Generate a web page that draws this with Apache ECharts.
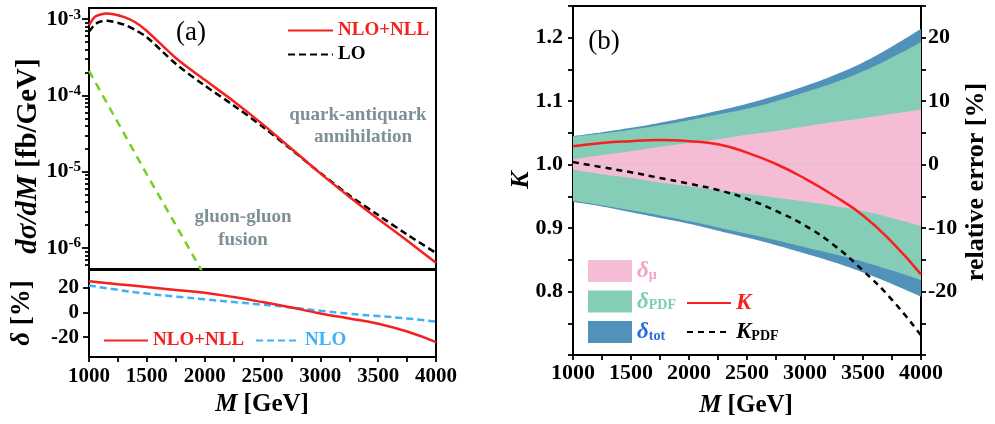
<!DOCTYPE html>
<html>
<head>
<meta charset="utf-8">
<script src="https://cdn.jsdelivr.net/npm/echarts@6/dist/echarts.min.js"></script>
<style>
  html, body { margin: 0; padding: 0; background: #fff; }
  #chart { width: 995px; height: 424px; }
</style>
</head>
<body>
<div id="chart"></div>
<script>
  // 数据 (a) 上图: 微分截面
  var massA = [1000, 1050, 1100, 1150, 1200, 1300, 1400, 1500, 1750, 2000, 2250, 2500, 2750, 3000, 3250, 3500, 3750, 4000];
  var nlonllA = [8.3e-4, 1.07e-3, 1.15e-3, 1.19e-3, 1.17e-3, 1.07e-3, 9.1e-4, 7.0e-4, 3.1e-4, 1.6e-4, 8.4e-5, 4.2e-5, 2.0e-5, 9.5e-6, 4.7e-6, 2.4e-6, 1.25e-6, 6.4e-7];
  var loA = [6.8e-4, 8.5e-4, 9.3e-4, 9.5e-4, 9.3e-4, 8.5e-4, 7.2e-4, 5.8e-4, 2.6e-4, 1.35e-4, 7.4e-5, 3.9e-5, 1.95e-5, 9.6e-6, 4.9e-6, 2.7e-6, 1.5e-6, 8.6e-7];
  var massG = [1000, 1250, 1500, 1750, 2000];
  var ggA = [2.1e-4, 4.4e-5, 9.2e-6, 2.0e-6, 4.3e-7];

  // (a) 下图 和 (b)
  var massB = [1000, 1250, 1500, 1750, 2000, 2250, 2500, 2750, 3000, 3250, 3500, 3750, 4000];
  var deltaNLL = [25, 22.6, 20.3, 18.0, 15.7, 12.2, 8.2, 3.8, -1.0, -5.0, -9.3, -15.5, -24.0];
  var deltaNLO = [21.6, 18.0, 15.0, 12.6, 10.4, 8.2, 6.1, 3.8, 1.2, -1.2, -3.1, -5.0, -7.6];

  var totUp = [4.5, 5.1, 5.8, 6.6, 7.5, 8.5, 9.6, 10.9, 12.4, 14.1, 16.1, 18.6, 21.4];
  var pdfUp = [4.4, 4.9, 5.5, 6.2, 7.0, 7.9, 8.8, 10.0, 11.4, 12.9, 14.7, 16.9, 19.3];
  var muUp = [0.8, 1.5, 2.1, 2.8, 3.4, 4.0, 4.7, 5.3, 6.0, 6.7, 7.3, 8.0, 8.7];
  var muLow = [-0.8, -1.5, -2.1, -2.8, -3.4, -4.0, -4.6, -5.2, -5.8, -6.5, -7.3, -8.4, -9.7];
  var pdfLow = [-5.7, -6.4, -7.2, -8.0, -8.9, -9.9, -10.9, -11.9, -13.0, -14.1, -15.3, -16.7, -18.2];
  var totLow = [-5.9, -6.6, -7.5, -8.4, -9.3, -10.4, -11.5, -12.7, -14.0, -15.4, -17.0, -18.8, -20.8];
  var kVal = [1.029, 1.034, 1.037, 1.039, 1.037, 1.032, 1.019, 1.001, 0.978, 0.951, 0.920, 0.878, 0.827];
  var kPdf = [1.004, 0.996, 0.988, 0.979, 0.970, 0.960, 0.946, 0.927, 0.904, 0.873, 0.833, 0.787, 0.731];

  // 刻度
  var logMajor = [1e-6, 1e-5, 1e-4, 1e-3];
  var logMantissa = [2, 3, 4, 5, 6, 7, 8, 9];
  var logDecades = [1e-7, 1e-6, 1e-5, 1e-4];
  var deltaTicks = [-20, 0, 20];

  var yMinA = 5.3e-7, yMaxA = 1.4e-3;
  var logMinor = [];
  logDecades.forEach(function (d) {
    logMantissa.forEach(function (m) {
      var v = m * d;
      if (v > yMinA && v < yMaxA) logMinor.push(v);
    });
  });

  function zip(xs, ys) {
    return xs.map(function (x, i) { return [x, ys[i]]; });
  }

  var FONT = "'Liberation Serif', 'Times New Roman', serif";
  var RED = '#f5211f';
  var C_TOT = '#5192bb', C_PDF = '#86cdb8', C_MU = '#f4bdd5';
  var GRAYTXT = '#7e9097';

  var labelStyle = { fontFamily: FONT, fontWeight: 'bold', fontSize: 21, color: '#000' };
  var lineAxis = { show: true, onZero: false, lineStyle: { color: '#000', width: 2 } };
  function ticks(len, extra) {
    return Object.assign({ show: true, length: len, lineStyle: { color: '#000', width: 1.8 } }, extra || {});
  }

  var chart = echarts.init(document.getElementById('chart'));

  var option = {
    animation: false,
    grid: [
      { left: 89, top: 8, width: 347, height: 261, show: true, borderColor: '#000', borderWidth: 2 },
      { left: 89, top: 270, width: 347, height: 87, show: true, borderColor: '#000', borderWidth: 2 },
      { left: 573, top: 6, width: 348, height: 349, show: true, borderColor: '#000', borderWidth: 2 },
      { left: 89, top: 8, width: 347, height: 261 }
    ],
    xAxis: [
      { gridIndex: 0, type: 'value', min: 1000, max: 4000, axisLine: lineAxis, axisTick: { show: false }, axisLabel: { show: false }, splitLine: { show: false } },
      {
        gridIndex: 1, type: 'value', min: 1000, max: 4000, interval: 250, axisLine: lineAxis,
        axisTick: ticks(5),
        axisLabel: Object.assign({ margin: 9, formatter: function (v) { return v % 500 === 0 ? v : ''; } }, labelStyle),
        splitLine: { show: false }
      },
      {
        gridIndex: 2, type: 'value', min: 1000, max: 4000, interval: 250, axisLine: lineAxis,
        axisTick: ticks(5),
        axisLabel: Object.assign({ margin: 7, formatter: function (v) { return v % 500 === 0 ? v : ''; } }, labelStyle, { fontSize: 22 }),
        splitLine: { show: false }
      },
      { gridIndex: 3, type: 'value', min: 1000, max: 4000, show: false }
    ],
    yAxis: [
      {
        gridIndex: 0, type: 'log', logBase: 10, min: yMinA, max: yMaxA, axisLine: lineAxis,
        axisTick: ticks(7, { customValues: logMajor }),
        axisLabel: {
          customValues: logMajor, margin: 8,
          formatter: function (v) { return '{b|10}{s|' + Math.round(Math.log10(v)) + '}'; },
          rich: {
            b: { fontFamily: FONT, fontWeight: 'bold', fontSize: 22, lineHeight: 24, color: '#000' },
            s: { fontFamily: FONT, fontWeight: 'bold', fontSize: 15, verticalAlign: 'top', color: '#000' }
          }
        },
        splitLine: { show: false }
      },
      {
        gridIndex: 1, type: 'value', min: -36, max: 34, axisLine: lineAxis,
        axisTick: ticks(6, { customValues: deltaTicks }),
        axisLabel: Object.assign({ customValues: deltaTicks, margin: 10 }, labelStyle),
        splitLine: { show: false }
      },
      {
        gridIndex: 2, type: 'value', min: 0.7, max: 1.25, interval: 0.05, axisLine: lineAxis,
        axisTick: ticks(5),
        axisLabel: Object.assign({
          margin: 10,
          formatter: function (v) {
            var n = Math.round(v * 100);
            return (n % 10 === 0 && n >= 80 && n <= 120) ? (n / 100).toFixed(1) : '';
          }
        }, labelStyle, { fontSize: 22 }),
        splitLine: { show: false }
      },
      {
        gridIndex: 2, type: 'value', position: 'right', min: -30, max: 25, interval: 5, axisLine: lineAxis,
        axisTick: ticks(5),
        axisLabel: Object.assign({
          margin: 7,
          formatter: function (v) { return (v % 10 === 0 && v > -30) ? v : ''; }
        }, labelStyle, { fontSize: 22 }),
        splitLine: { show: false }
      },
      {
        gridIndex: 3, type: 'log', logBase: 10, min: yMinA, max: yMaxA,
        axisLine: { show: false },
        axisTick: ticks(4, { customValues: logMinor }),
        axisLabel: { show: false },
        splitLine: { show: false }
      }
    ],
    legend: [
      {
        orient: 'vertical', left: 287, top: 21, padding: 0, itemWidth: 45, itemHeight: 14, itemGap: 5, selectedMode: false,
        itemStyle: { opacity: 0 },
        textStyle: { fontFamily: FONT, fontWeight: 'bold', fontSize: 19, lineHeight: 18 },
        data: [
          { name: 'NLO+NLL', textStyle: { color: RED } },
          { name: 'LO', textStyle: { color: '#000' } }
        ]
      },
      {
        orient: 'horizontal', left: 103, top: 331, padding: 0, itemWidth: 44, itemHeight: 14, itemGap: 11, selectedMode: false,
        itemStyle: { opacity: 0 },
        textStyle: { fontFamily: FONT, fontWeight: 'bold', fontSize: 19, lineHeight: 19 },
        data: [
          { name: 'NLO+NLL', textStyle: { color: RED } },
          { name: 'NLO', textStyle: { color: '#3fb2f6' } }
        ]
      },
      {
        orient: 'vertical', left: 588, top: 260, padding: 0, itemWidth: 44, itemHeight: 22, itemGap: 7.5, selectedMode: false,
        formatter: function (name) {
          var sub = { mu: 'μ', pdf: 'PDF', tot: 'tot' }[name];
          return '{d|δ}{sub|' + sub + '}';
        },
        textStyle: {
          fontFamily: FONT, fontWeight: 'bold', fontSize: 22,
          rich: {
            d: { fontFamily: FONT, fontStyle: 'italic', fontSize: 23, verticalAlign: 'top', lineHeight: 22 },
            sub: { fontFamily: FONT, fontWeight: 'bold', fontSize: 14, verticalAlign: 'bottom', lineHeight: 22 }
          }
        },
        data: [
          { name: 'mu', icon: 'rect', itemStyle: { color: C_MU }, textStyle: { color: '#f2a3c8' } },
          { name: 'pdf', icon: 'rect', itemStyle: { color: C_PDF }, textStyle: { color: '#79cfae' } },
          { name: 'tot', icon: 'rect', itemStyle: { color: C_TOT }, textStyle: { color: '#2a6ce0' } }
        ]
      },
      {
        orient: 'vertical', left: 686, top: 292, padding: 0, itemWidth: 44, itemHeight: 14, itemGap: 6, selectedMode: false,
        itemStyle: { opacity: 0 },
        formatter: function (name) {
          return name === 'K' ? '{k|K}' : '{k|K}{sub|PDF}';
        },
        textStyle: {
          fontFamily: FONT, fontWeight: 'bold', fontSize: 22,
          rich: {
            k: { fontFamily: FONT, fontStyle: 'italic', fontWeight: 'bold', fontSize: 23, verticalAlign: 'top', lineHeight: 22 },
            sub: { fontFamily: FONT, fontWeight: 'bold', fontSize: 14, verticalAlign: 'bottom', lineHeight: 22 }
          }
        },
        data: [
          { name: 'K', textStyle: { color: RED } },
          { name: 'KPDF', textStyle: { color: '#000' } }
        ]
      }
    ],
    series: [
      // (b) 误差带
      { name: 'tot', type: 'line', xAxisIndex: 2, yAxisIndex: 3, data: zip(massB, totUp), smooth: true, symbol: 'none', color: C_TOT, lineStyle: { width: 0 }, areaStyle: { color: C_TOT, opacity: 1 } },
      { name: 'tot', type: 'line', xAxisIndex: 2, yAxisIndex: 3, data: zip(massB, totLow), smooth: true, symbol: 'none', color: C_TOT, lineStyle: { width: 0 }, areaStyle: { color: C_TOT, opacity: 1 } },
      { name: 'pdf', type: 'line', xAxisIndex: 2, yAxisIndex: 3, data: zip(massB, pdfUp), smooth: true, symbol: 'none', color: C_PDF, lineStyle: { width: 0 }, areaStyle: { color: C_PDF, opacity: 1 } },
      { name: 'pdf', type: 'line', xAxisIndex: 2, yAxisIndex: 3, data: zip(massB, pdfLow), smooth: true, symbol: 'none', color: C_PDF, lineStyle: { width: 0 }, areaStyle: { color: C_PDF, opacity: 1 } },
      { name: 'mu', type: 'line', xAxisIndex: 2, yAxisIndex: 3, data: zip(massB, muUp), smooth: true, symbol: 'none', color: C_MU, lineStyle: { width: 0 }, areaStyle: { color: C_MU, opacity: 1 } },
      { name: 'mu', type: 'line', xAxisIndex: 2, yAxisIndex: 3, data: zip(massB, muLow), smooth: true, symbol: 'none', color: C_MU, lineStyle: { width: 0 }, areaStyle: { color: C_MU, opacity: 1 } },
      { name: 'K', type: 'line', xAxisIndex: 2, yAxisIndex: 2, data: zip(massB, kVal), smooth: true, symbol: 'none', color: RED, lineStyle: { width: 2.5, color: RED } },
      { name: 'KPDF', type: 'line', xAxisIndex: 2, yAxisIndex: 2, data: zip(massB, kPdf), smooth: true, symbol: 'none', color: '#000', lineStyle: { width: 2.5, color: '#000', type: [6, 5] } },

      // (a) 上图
      { name: 'gg', type: 'line', xAxisIndex: 0, yAxisIndex: 0, data: zip(massG, ggA), symbol: 'none', color: '#70d11e', lineStyle: { width: 2.5, color: '#70d11e', type: [8, 6] } },
      { name: 'LO', type: 'line', xAxisIndex: 0, yAxisIndex: 0, data: zip(massA, loA), smooth: 0.3, symbol: 'none', color: '#000', lineStyle: { width: 2.5, color: '#000', type: [7, 4] } },
      { name: 'NLO+NLL', type: 'line', xAxisIndex: 0, yAxisIndex: 0, data: zip(massA, nlonllA), smooth: 0.3, symbol: 'none', color: RED, lineStyle: { width: 2.5, color: RED } },

      // (a) 下图
      { name: 'NLO', type: 'line', xAxisIndex: 1, yAxisIndex: 1, data: zip(massB, deltaNLO), smooth: true, symbol: 'none', color: '#3fb2f6', lineStyle: { width: 2.5, color: '#3fb2f6', type: [7, 4] } },
      { name: 'NLO+NLL', type: 'line', xAxisIndex: 1, yAxisIndex: 1, data: zip(massB, deltaNLL), smooth: true, symbol: 'none', color: RED, lineStyle: { width: 2.5, color: RED } }
    ],
    graphic: [
      { type: 'text', x: 191, y: 33, style: { text: '(a)', fontFamily: FONT, fontSize: 27, fill: '#000', align: 'center', verticalAlign: 'middle' } },
      { type: 'text', x: 604, y: 42, style: { text: '(b)', fontFamily: FONT, fontSize: 27, fill: '#000', align: 'center', verticalAlign: 'middle' } },
      { type: 'text', x: 358, y: 115, style: { text: 'quark-antiquark', fontFamily: FONT, fontWeight: 'bold', fontSize: 19, fill: GRAYTXT, align: 'center', verticalAlign: 'middle' } },
      { type: 'text', x: 363, y: 137, style: { text: 'annihilation', fontFamily: FONT, fontWeight: 'bold', fontSize: 19, fill: GRAYTXT, align: 'center', verticalAlign: 'middle' } },
      { type: 'text', x: 243, y: 217, style: { text: 'gluon-gluon', fontFamily: FONT, fontWeight: 'bold', fontSize: 19, fill: GRAYTXT, align: 'center', verticalAlign: 'middle' } },
      { type: 'text', x: 243, y: 240, style: { text: 'fusion', fontFamily: FONT, fontWeight: 'bold', fontSize: 19, fill: GRAYTXT, align: 'center', verticalAlign: 'middle' } },
      // 坐标轴标题
      {
        type: 'text', x: 29, y: 156, rotation: Math.PI / 2,
        style: {
          text: '{i|dσ/dM} [fb/GeV]', fontFamily: FONT, fontWeight: 'bold', fontSize: 29, fill: '#000', align: 'center', verticalAlign: 'middle',
          rich: { i: { fontFamily: FONT, fontStyle: 'italic', fontWeight: 'bold', fontSize: 29 } }
        }
      },
      {
        type: 'text', x: 22, y: 313, rotation: Math.PI / 2,
        style: {
          text: '{i|δ} [%]', fontFamily: FONT, fontWeight: 'bold', fontSize: 27, fill: '#000', align: 'center', verticalAlign: 'middle',
          rich: { i: { fontFamily: FONT, fontStyle: 'italic', fontWeight: 'bold', fontSize: 27 } }
        }
      },
      {
        type: 'text', x: 262, y: 405,
        style: {
          text: '{i|M} [GeV]', fontFamily: FONT, fontWeight: 'bold', fontSize: 25, fill: '#000', align: 'center', verticalAlign: 'middle',
          rich: { i: { fontFamily: FONT, fontStyle: 'italic', fontWeight: 'bold', fontSize: 25 } }
        }
      },
      {
        type: 'text', x: 746, y: 406,
        style: {
          text: '{i|M} [GeV]', fontFamily: FONT, fontWeight: 'bold', fontSize: 25, fill: '#000', align: 'center', verticalAlign: 'middle',
          rich: { i: { fontFamily: FONT, fontStyle: 'italic', fontWeight: 'bold', fontSize: 25 } }
        }
      },
      { type: 'text', x: 521, y: 180, rotation: Math.PI / 2, style: { text: 'K', fontFamily: FONT, fontStyle: 'italic', fontWeight: 'bold', fontSize: 26, fill: '#000', align: 'center', verticalAlign: 'middle' } },
      { type: 'text', x: 976, y: 182, rotation: Math.PI / 2, style: { text: 'relative error [%]', fontFamily: FONT, fontWeight: 'bold', fontSize: 26, fill: '#000', align: 'center', verticalAlign: 'middle' } }
    ]
  };

  chart.setOption(option);
</script>
</body>
</html>
